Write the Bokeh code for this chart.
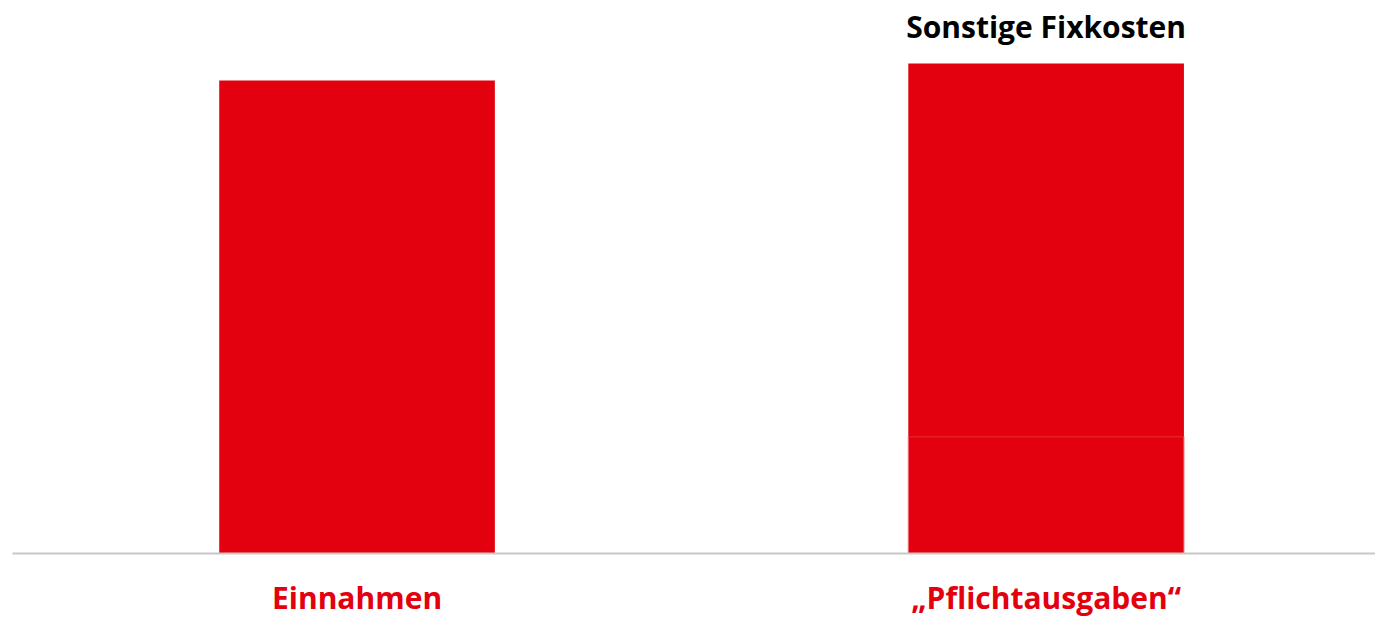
from bokeh.plotting import figure
from bokeh.models import Range1d, FixedTicker, ColumnDataSource
from bokeh.core.properties import value
from bokeh.embed import file_html
from bokeh.resources import INLINE

categories = ["Einnahmen", "\u201ePflichtausgaben\u201c"]
einnahmen = [100.0]
pflicht_basis = [24.7]
sonstige_fixkosten = [78.9]
segment_label = "Sonstige Fixkosten"

RED = "#E3000F"
FONT = "Open Sans"

p = figure(width=1375, height=620, output_backend="svg", toolbar_location=None,
           x_range=Range1d(-0.5, 1.478), y_range=Range1d(0, 116.9),
           min_border_left=12, min_border_right=0, min_border_top=0, min_border_bottom=67)

idx = list(range(len(categories)))

# Einnahmen
p.vbar(x=[0], bottom=0, top=einnahmen, width=0.4, fill_color=RED, line_color=None)
# Pflichtausgaben stacked
base_top = [pflicht_basis[0]]
p.vbar(x=[1], bottom=0, top=base_top, width=0.4, fill_color=RED,
       line_color="#F06A72", line_width=1)
total = [pflicht_basis[0] + sonstige_fixkosten[0]]
p.vbar(x=[1], bottom=base_top, top=total, width=0.4, fill_color=RED, line_color=None)

src = ColumnDataSource(dict(x=[1], y=total, t=[segment_label]))
p.text(x="x", y="y", text="t", source=src, text_align="center", text_baseline="alphabetic",
       y_offset=-37, text_font=value(FONT), text_font_style="bold",
       text_font_size="30px", text_color="black")

p.xaxis.ticker = FixedTicker(ticks=idx)
p.xaxis.major_label_overrides = {i: c for i, c in zip(idx, categories)}
p.xaxis.major_label_text_font = FONT
p.xaxis.major_label_text_font_style = "bold"
p.xaxis.major_label_text_font_size = "30px"
p.xaxis.major_label_text_color = RED
p.xaxis.major_label_standoff = 17
p.xaxis.major_tick_line_color = None
p.xaxis.minor_tick_line_color = None
p.xaxis.axis_line_color = "#C8C8C8"
p.xaxis.axis_line_width = 2
p.yaxis.visible = False
p.xgrid.visible = False
p.ygrid.visible = False
p.outline_line_color = None
p.background_fill_color = "white"
p.border_fill_color = "white"

open("out.html", "w").write(file_html(p, INLINE))
